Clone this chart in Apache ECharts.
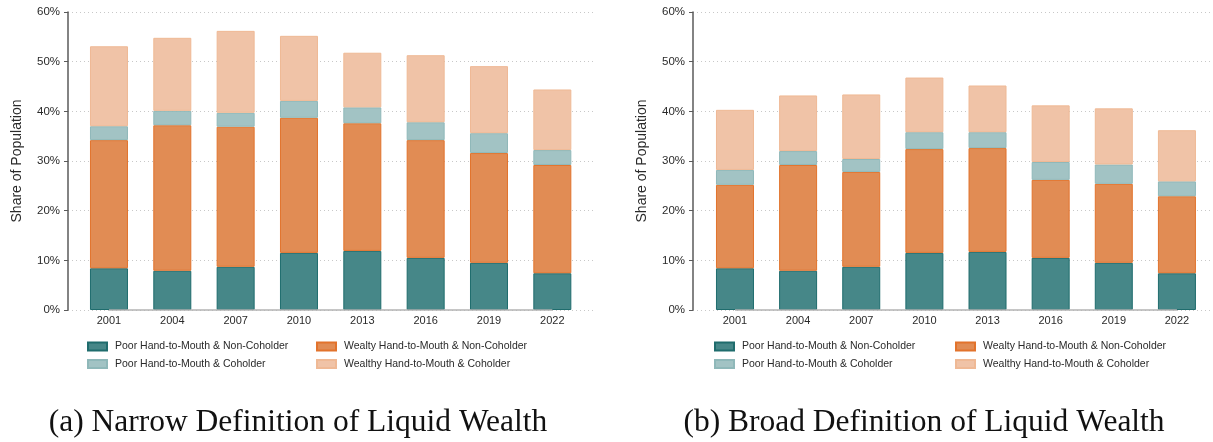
<!DOCTYPE html>
<html>
<head>
<meta charset="utf-8">
<script src="https://cdn.jsdelivr.net/npm/echarts@6/dist/echarts.min.js"></script>
<style>
  html, body { margin: 0; padding: 0; background: #ffffff; }
  #chart { width: 1213px; height: 442px; }
</style>
</head>
<body>
<div id="chart"></div>
<script>
const years = ['2001', '2004', '2007', '2010', '2013', '2016', '2019', '2022'];
const seriesNames = [
  'Poor Hand-to-Mouth & Non-Coholder',
  'Wealty Hand-to-Mouth & Non-Coholder',
  'Poor Hand-to-Mouth & Coholder',
  'Wealthy Hand-to-Mouth & Coholder'
];
// Panel (a): Narrow definition of liquid wealth (segment shares, %)
const narrowPoorNonCo    = [8.4, 7.9, 8.7, 11.5, 11.9, 10.5, 9.5, 7.4];
const narrowWealthyNonCo = [25.8, 29.3, 28.2, 27.2, 25.7, 23.7, 22.1, 21.8];
const narrowPoorCo       = [2.8, 2.9, 2.8, 3.4, 3.2, 3.6, 4.0, 3.0];
const narrowWealthyCo    = [16.1, 14.7, 16.5, 13.1, 11.0, 13.5, 13.5, 12.2];
// Panel (b): Broad definition of liquid wealth (segment shares, %)
const broadPoorNonCo     = [8.4, 7.9, 8.7, 11.5, 11.7, 10.5, 9.5, 7.4];
const broadWealthyNonCo  = [16.8, 21.3, 19.1, 20.9, 20.9, 15.7, 15.9, 15.5];
const broadPoorCo        = [3.0, 2.8, 2.6, 3.4, 3.2, 3.6, 3.9, 3.0];
const broadWealthyCo     = [12.1, 11.2, 13.0, 11.0, 9.4, 11.4, 11.3, 10.3];
const captions = ['(a) Narrow Definition of Liquid Wealth', '(b) Broad Definition of Liquid Wealth'];
const yAxisName = 'Share of Population';

const styles = [
  { color: '#468788', borderColor: '#1f6c6d' },
  { color: '#e18c54', borderColor: '#e2732c' },
  { color: '#a2c3c4', borderColor: '#8fb8b9' },
  { color: '#f0c3a7', borderColor: '#efb995' }
];

const panels = [
  [narrowPoorNonCo, narrowWealthyNonCo, narrowPoorCo, narrowWealthyCo],
  [broadPoorNonCo, broadWealthyNonCo, broadPoorCo, broadWealthyCo]
];

const FONT = '"Liberation Sans", Arial, sans-serif';
const TXT = '#2a2a2a';

// per panel: a frame grid (axis + gridlines) and a bar grid (categories)
const grids = [
  { left: 68, top: 12, width: 525, height: 298 },
  { left: 77.3, top: 12, width: 506.7, height: 298 },
  { left: 693, top: 12, width: 519, height: 298 },
  { left: 703.4, top: 12, width: 505.1, height: 298 }
];

const xAxes = [];
const yAxes = [];
[0, 1].forEach(p => {
  const fg = p * 2, bg = p * 2 + 1;
  xAxes.push({
    type: 'value', gridIndex: fg, min: 0, max: 1, show: false
  });
  xAxes.push({
    type: 'category', gridIndex: bg, data: years, boundaryGap: true,
    axisLine: { show: false }, axisTick: { show: false }, splitLine: { show: false },
    axisLabel: { color: TXT, fontFamily: FONT, fontSize: 11, margin: 5 }
  });
  yAxes.push({
    type: 'value', gridIndex: fg, min: 0, max: 60, interval: 10,
    name: yAxisName, nameLocation: 'middle', nameGap: 44,
    nameTextStyle: { color: TXT, fontFamily: FONT, fontSize: 14 },
    axisLine: { show: true, lineStyle: { color: '#5a5a5a', width: 1.5 } },
    axisTick: { show: true, inside: false, length: 4, lineStyle: { color: '#5a5a5a', width: 1 } },
    axisLabel: { color: TXT, fontFamily: FONT, fontSize: 11.5, margin: 8, formatter: '{value}%' },
    splitLine: { show: true, lineStyle: { color: '#c8c8c8', width: 1, type: [1, 3] } }
  });
  yAxes.push({
    type: 'value', gridIndex: bg, min: 0, max: 60, interval: 10, show: false,
    splitLine: { show: false }
  });
});

const series = [];
panels.forEach((arrs, p) => {
  arrs.forEach((arr, k) => {
    const s = {
      name: seriesNames[k], type: 'bar', stack: 'panel' + p,
      xAxisIndex: p * 2 + 1, yAxisIndex: p * 2 + 1, barWidth: 38,
      data: arr,
      itemStyle: { color: styles[k].color, borderColor: styles[k].borderColor, borderWidth: 1 },
      emphasis: { disabled: true },
      animation: false
    };
    if (k === 0) {
      s.markLine = {
        silent: true, symbol: ['none', 'none'], label: { show: false },
        lineStyle: { color: '#b3b3b3', width: 1.5, type: 'solid' },
        data: [[{ coord: [years[0], 0] }, { coord: [years[years.length - 1], 0] }]],
        animation: false
      };
    }
    series.push(s);
  });
});

const legendBase = {
  orient: 'vertical', itemWidth: 19, itemHeight: 8, itemGap: 6.5, icon: 'rect', padding: 0,
  textStyle: { color: TXT, fontFamily: FONT, fontSize: 10.5, padding: [0, 0, 0, 3] },
  selectedMode: false
};
const legends = [
  Object.assign({}, legendBase, { left: 87, top: 341, data: [seriesNames[0], seriesNames[2]] }),
  Object.assign({}, legendBase, { left: 316, top: 341, data: [seriesNames[1], seriesNames[3]] }),
  Object.assign({}, legendBase, { left: 714, top: 341, data: [seriesNames[0], seriesNames[2]] }),
  Object.assign({}, legendBase, { left: 955, top: 341, data: [seriesNames[1], seriesNames[3]] })
];

const captionX = [298, 924];
const graphic = captions.map((c, i) => ({
  type: 'text', x: captionX[i], y: 423, silent: true,
  style: {
    text: c, font: '31.5px "Liberation Serif", "DejaVu Serif", serif', fill: '#111111',
    textAlign: 'center', textVerticalAlign: 'middle', align: 'center', verticalAlign: 'middle'
  }
}));

const chart = echarts.init(document.getElementById('chart'), null, { renderer: 'canvas' });
chart.setOption({
  animation: false,
  backgroundColor: '#ffffff',
  grid: grids,
  xAxis: xAxes,
  yAxis: yAxes,
  legend: legends,
  series: series,
  graphic: graphic
});
</script>
</body>
</html>
